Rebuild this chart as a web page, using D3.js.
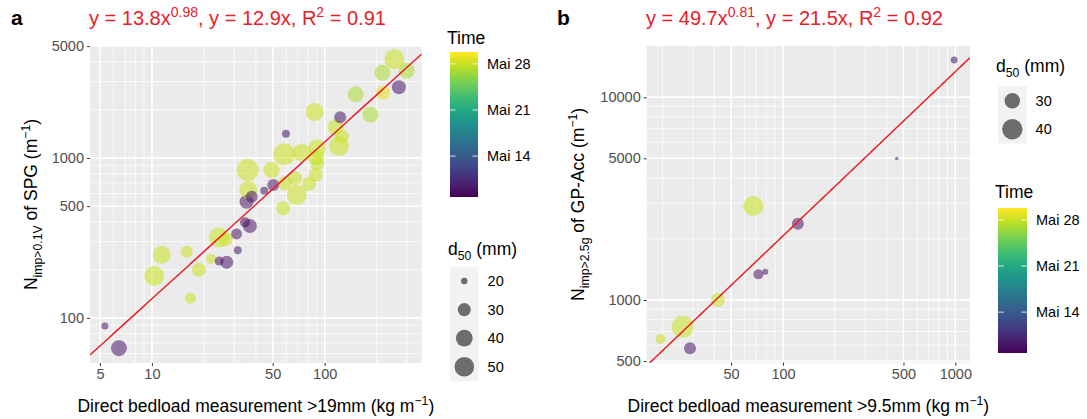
<!DOCTYPE html>
<html><head><meta charset="utf-8">
<script src="https://cdn.jsdelivr.net/npm/d3@7"></script>
<style>body{margin:0;background:#fff} text{font-family:"Liberation Sans",Arial,Helvetica,sans-serif}</style>
</head><body><script>
// ---------- DATA ----------
// Panel a: SPG impulses vs direct bedload >19mm
const aX = [5.34,6.44,10.3,11.4,15.9,18.7,16.7,22.0,24.4,26.7,24.5,27.1,31.4,30.9,35.3,34.6,36.9,36.1,37.8,35.8,49.3,44.7,50.4,58.9,67.3,68.9,81.1,88.7,90.6,89.1,90.6,73.6,58.3,121,126,116,59.7,184,123,87.5,151,218,269,216,298,253,57.6];
const aY = [89,64.7,183,248,259,200,133,234,318,311,227,223,265,335,533,396,376,631,573,841,841,625,678,695,747,587,688,783,926,1010,1150,1079,1054,1189,1359,1556,1419,1866,1795,1939,2500,2559,2767,3411,3515,4140,485];
const aD50 = [20.4,37.6,51.6,44.1,27.5,32.1,25.6,24,51.6,32.1,22.5,29.7,21.3,25.6,32.1,24,32.1,44.1,27.5,60,37.6,21.3,27.5,32.1,32.1,51.6,32.1,32.1,32.1,37.6,44.1,44.1,60,51.6,32.1,37.6,21.3,37.6,27.5,44.1,37.6,32.1,32.1,37.6,37.6,51.6,32.1];
const aDay = [9,9,28,28,28,28,28,28,28,28,9,9,9,9,9,8,9,28,9,28,28,9,9,28,28,28,28,28,28,28,28,28,28,28,28,28,9,27,9,28,27,29,9,27,27,28,28];
// Panel b: GP-Acc impulses vs direct bedload >9.5mm
const bX = [984,457,122,67.3,72,79,41.9,26.2,19.5,28.9];
const bY = [15280,4990,2377,2911,1339,1380,1000,738,643,578];
const bD50 = [20.8,20.0,25,39.1,22.9,20.4,27.7,44,22.9,25];
const bDay = [9,9,9,28,9,9,28,28,28,9];
// Fits (power law)
const aFit = {a:13.8, b:0.98};
const bFit = {a:49.7, b:0.81};
// Tick labels
const aXTicks = [5,10,50,100];
const aYTicks = [100,500,1000,5000];
const bXTicks = [50,100,500,1000];
const bYTicks = [500,1000,5000,10000];
const timeTicks = [14,21,28];
const timeLabels = ["Mai 14","Mai 21","Mai 28"];
const aSizeTicks = [20,30,40,50];
const bSizeTicks = [30,40];
const timeDomain = [7.8,29.8];

// ---------- DRAW ----------
const W=1087,H=419;
const svg=d3.select('body').append('svg').attr('width',W).attr('height',H);
const color=d3.scaleSequential(d3.interpolateViridis).domain(timeDomain);

function logMinor(lo,hi){const out=[];for(let e=Math.floor(Math.log10(lo));e<=Math.ceil(Math.log10(hi));e++)for(let m=1;m<10;m++){const v=m*Math.pow(10,e);if(v>=lo&&v<=hi)out.push(v);}return out;}

function rich(g,x,y,parts,size,fill,anchor,rot){
  const t=g.append('text').attr('x',x).attr('y',y).attr('font-size',size).attr('fill',fill).attr('text-anchor',anchor||'middle');
  if(rot) t.attr('transform',`rotate(-90,${x},${y})`);
  let shift=0;
  parts.forEach(([s,k])=>{
    const ts=t.append('tspan').text(s);
    let target=0;
    if(k==='sup'){target=-size*0.42;ts.attr('font-size',size*0.7);}
    else if(k==='sub'){target=size*0.3;ts.attr('font-size',size*0.7);}
    ts.attr('dy',target-shift);shift=target;
  });
  return t;
}

function rScale(dmin,dmax){return d=>1.8+9.2*Math.sqrt(Math.max(0,(d-dmin)/(dmax-dmin)));}

function drawPanel(p){
  const g=svg.append('g');
  const x=d3.scaleLog().domain(p.xDomain).range([p.left,p.right]);
  const y=d3.scaleLog().domain(p.yDomain).range([p.bottom,p.top]);
  g.append('rect').attr('x',p.left).attr('y',p.top).attr('width',p.right-p.left).attr('height',p.bottom-p.top).attr('fill','#ebebeb');
  const xm=logMinor(p.xDomain[0],p.xDomain[1]), ym=logMinor(p.yDomain[0],p.yDomain[1]);
  g.selectAll('.vm').data(xm).enter().append('line').attr('x1',d=>x(d)).attr('x2',d=>x(d)).attr('y1',p.top).attr('y2',p.bottom).attr('stroke','#fff').attr('stroke-width',0.7);
  g.selectAll('.hm').data(ym).enter().append('line').attr('y1',d=>y(d)).attr('y2',d=>y(d)).attr('x1',p.left).attr('x2',p.right).attr('stroke','#fff').attr('stroke-width',0.7);
  g.selectAll('.vM').data(p.xTicks).enter().append('line').attr('x1',d=>x(d)).attr('x2',d=>x(d)).attr('y1',p.top).attr('y2',p.bottom).attr('stroke','#fff').attr('stroke-width',1.4);
  g.selectAll('.hM').data(p.yTicks).enter().append('line').attr('y1',d=>y(d)).attr('y2',d=>y(d)).attr('x1',p.left).attr('x2',p.right).attr('stroke','#fff').attr('stroke-width',1.4);
  const cid='clip'+p.id;
  svg.append('clipPath').attr('id',cid).append('rect').attr('x',p.left).attr('y',p.top).attr('width',p.right-p.left).attr('height',p.bottom-p.top);
  const pg=g.append('g').attr('clip-path',`url(#${cid})`);
  const r=p.r;
  pg.selectAll('circle').data(p.xs.map((v,i)=>i)).enter().append('circle')
    .attr('cx',i=>x(p.xs[i])).attr('cy',i=>y(p.ys[i])).attr('r',i=>r(p.d50[i]))
    .attr('fill',i=>color(p.day[i])).attr('fill-opacity',0.55);
  const xs=d3.range(0,201).map(i=>p.xDomain[0]*Math.pow(p.xDomain[1]/p.xDomain[0],i/200));
  pg.append('path').attr('d',d3.line().x(d=>x(d)).y(d=>y(p.fit.a*Math.pow(d,p.fit.b)))(xs)).attr('fill','none').attr('stroke','#e8202a').attr('stroke-width',1.5);
  const ax=g.append('g').attr('transform',`translate(0,${p.bottom})`).call(d3.axisBottom(x).tickValues(p.xTicks).tickFormat(d3.format('d')).tickSize(3).tickPadding(3));
  const ay=g.append('g').attr('transform',`translate(${p.left},0)`).call(d3.axisLeft(y).tickValues(p.yTicks).tickFormat(d3.format('d')).tickSize(3).tickPadding(3));
  [ax,ay].forEach(a=>{a.select('.domain').remove();a.selectAll('line').attr('stroke','#333');a.selectAll('text').attr('fill','#4d4d4d').attr('font-size',14.5).attr('font-family','"Liberation Sans",Arial,sans-serif');});
  // titles
  rich(g,p.titleX,25,p.title,20,'#e8202a','start');
  g.append('text').attr('x',p.letterX).attr('y',25).attr('font-size',21).attr('font-weight','bold').attr('fill','#000').text(p.letter);
  rich(g,(p.left+p.right)/2,412,p.xTitle,17.5,'#000');
  rich(g,p.yTitleX,(p.top+p.bottom)/2,p.yTitle,17.5,'#000','middle',true);
}

function colorbar(x0,y0,w,h,id,titleY){
  const grad=svg.append('defs').append('linearGradient').attr('id',id).attr('x1',0).attr('y1',1).attr('x2',0).attr('y2',0);
  d3.range(0,11).forEach(i=>grad.append('stop').attr('offset',i/10).attr('stop-color',d3.interpolateViridis(i/10)));
  svg.append('text').attr('x',x0-3).attr('y',titleY).attr('font-size',17.5).text('Time');
  svg.append('rect').attr('x',x0).attr('y',y0).attr('width',w).attr('height',h).attr('fill',`url(#${id})`);
  const s=d3.scaleLinear().domain(timeDomain).range([y0+h,y0]);
  timeTicks.forEach((t,i)=>{
    svg.append('line').attr('x1',x0).attr('x2',x0+w/5).attr('y1',s(t)).attr('y2',s(t)).attr('stroke','#fff').attr('stroke-width',0.8);
    svg.append('line').attr('x1',x0+w-w/5).attr('x2',x0+w).attr('y1',s(t)).attr('y2',s(t)).attr('stroke','#fff').attr('stroke-width',0.8);
    svg.append('text').attr('x',x0+w+9).attr('y',s(t)+5).attr('font-size',14.5).attr('fill','#000').text(timeLabels[i]);
  });
}

function sizeLegend(x0,titleY,keyTop,ticks,r){
  rich(svg,x0-2,titleY,[['d','n'],['50','sub'],[' (mm)','n']],17.5,'#000','start');
  const k=28.6;
  svg.append('rect').attr('x',x0).attr('y',keyTop).attr('width',k).attr('height',k*ticks.length).attr('fill','#f2f2f2');
  ticks.forEach((t,i)=>{
    const cy=keyTop+k*i+k/2;
    svg.append('circle').attr('cx',x0+k/2).attr('cy',cy).attr('r',r(t)).attr('fill','#000').attr('fill-opacity',0.55);
    svg.append('text').attr('x',x0+k+9).attr('y',cy+5).attr('font-size',14.5).text(t);
  });
}

const rA=rScale(19,60), rB=rScale(20,44);
drawPanel({id:'a',left:90,right:421.7,top:46,bottom:363,xDomain:[4.38,364.5],yDomain:[52.3,5012],
  xs:aX,ys:aY,d50:aD50,day:aDay,fit:aFit,xTicks:aXTicks,yTicks:aYTicks,r:rA,
  title:[['y = 13.8x','n'],['0.98','sup'],[', y = 12.9x, R','n'],['2','sup'],[' = 0.91','n']],titleX:89,
  letter:'a',letterX:11,
  xTitle:[['Direct bedload measurement >19mm (kg m','n'],['\u22121','sup'],[')','n']],
  yTitle:[['N','n'],['imp>0.1V','sub'],[' of SPG (m','n'],['\u22121','sup'],[')','n']],yTitleX:37});
drawPanel({id:'b',left:646.7,right:970,top:46,bottom:362.7,xDomain:[16.2,1216],yDomain:[491,17900],
  xs:bX,ys:bY,d50:bD50,day:bDay,fit:bFit,xTicks:bXTicks,yTicks:bYTicks,r:rB,
  title:[['y = 49.7x','n'],['0.81','sup'],[', y = 21.5x, R','n'],['2','sup'],[' = 0.92','n']],titleX:646,
  letter:'b',letterX:557,
  xTitle:[['Direct bedload measurement >9.5mm (kg m','n'],['\u22121','sup'],[')','n']],
  yTitle:[['N','n'],['imp>2.5g','sub'],[' of GP-Acc (m','n'],['\u22121','sup'],[')','n']],yTitleX:584});
colorbar(450,52,28,145,'gA',44);
colorbar(998,208,29,145,'gB',198);
sizeLegend(450,255,266.7,aSizeTicks,rA);
sizeLegend(998,72,86.4,bSizeTicks,rB);
</script></body></html>
